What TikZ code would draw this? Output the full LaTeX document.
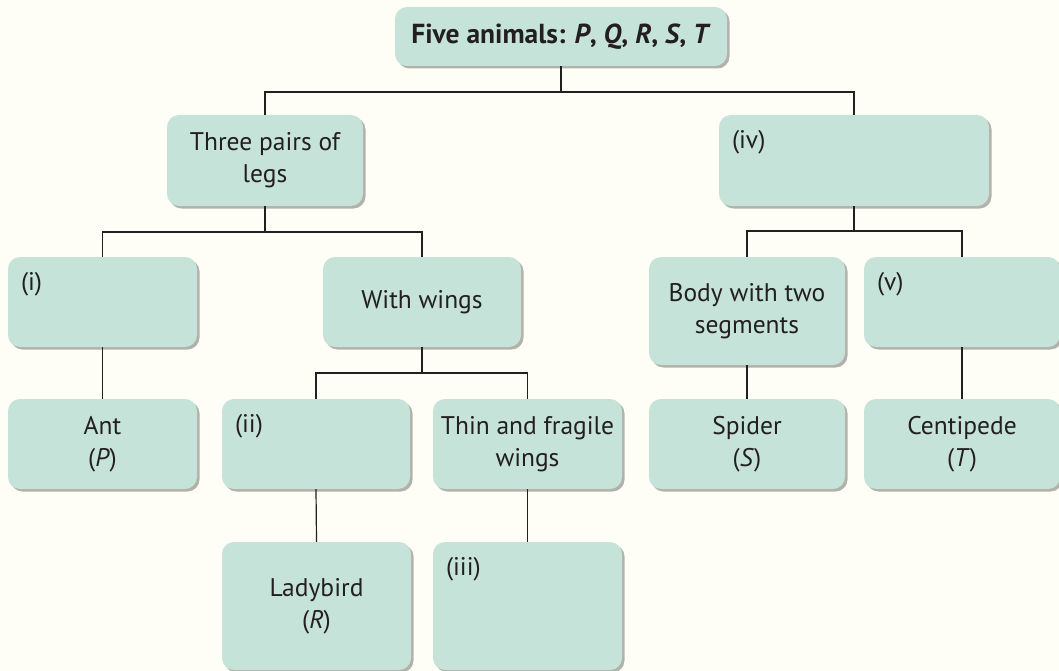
\documentclass[tikz,border=0pt]{standalone}
\usepackage{fontspec}
\setmainfont{PT Sans}
\usetikzlibrary{shadows}
\definecolor{bg}{HTML}{FFFEF6}
\definecolor{boxc}{HTML}{C5E3D8}
\definecolor{txt}{HTML}{231F20}
\begin{document}
\begin{tikzpicture}[x=1pt,y=-1pt,
  box/.style={rectangle, rounded corners=12pt, fill=boxc, inner sep=0pt, align=center, text=txt,
    font=\fontsize{25.5}{32}\selectfont,
    drop shadow={shadow xshift=2.5pt, shadow yshift=-2.5pt, fill=black, opacity=0.3}},
  link/.style={draw=txt, line width=1.2pt},
  lbl/.style={anchor=base west, text=txt, inner sep=0pt, font=\fontsize{25.5}{32}\selectfont}]
\fill[bg] (0,0) rectangle (1059,671);
\clip (0,0) rectangle (1059,671);
\useasboundingbox (0,0) rectangle (1059,671);
% boxes
\node[box, minimum width=332pt, minimum height=59pt, font=\fontsize{27.5}{32}\selectfont\bfseries] (top) at (561,36.5)
  {Five animals: \textit{P}, \textit{Q}, \textit{R}, \textit{S}, \textit{T}};
\node[box, minimum width=196pt, minimum height=91pt] (three) at (265,160.5) {Three pairs of\\legs};
\node[box, minimum width=270pt, minimum height=91pt] (iv) at (854,160.5) {};
\node[box, minimum width=189pt, minimum height=90pt] (i) at (102.5,302) {};
\node[box, minimum width=198pt, minimum height=90pt] (wings) at (422,302) {With wings};
\node[box, minimum width=196pt, minimum height=108pt] (body) at (747,311) {Body with two\\segments};
\node[box, minimum width=196pt, minimum height=90pt] (v) at (962,302) {};
\node[box, minimum width=189pt, minimum height=90pt] (ant) at (102.5,444) {Ant\\(\textit{P})};
\node[box, minimum width=188pt, minimum height=90pt] (ii) at (316,444) {};
\node[box, minimum width=189pt, minimum height=90pt] (thin) at (527.5,444) {Thin and fragile\\wings};
\node[box, minimum width=196pt, minimum height=90pt] (spider) at (747,444) {Spider\\(\textit{S})};
\node[box, minimum width=196pt, minimum height=90pt] (centi) at (962,444) {Centipede\\(\textit{T})};
\node[box, minimum width=189pt, minimum height=128pt] (lady) at (316.5,606) {Ladybird\\(\textit{R})};
\node[box, minimum width=189pt, minimum height=128pt] (iii) at (527.5,606) {};
% labels
\node[lbl] (liv) at ([xshift=13pt,yshift=-34pt]iv.north west) {(iv)};
\node[lbl] (li) at ([xshift=13pt,yshift=-34pt]i.north west) {(i)};
\node[lbl] (lv) at ([xshift=13pt,yshift=-34pt]v.north west) {(v)};
\node[lbl] (lii) at ([xshift=13pt,yshift=-34pt]ii.north west) {(ii)};
\node[lbl] (liii) at ([xshift=13pt,yshift=-34pt]iii.north west) {(iii)};
% connectors
\coordinate (b1) at (561,92);
\coordinate (b2) at (265,232);
\coordinate (b3) at (854,231);
\coordinate (b4) at (422,373);
\draw[link] (top.south) -- (b1);
\draw[link] (three.north) |- (b1) -| (iv.north);
\draw[link] (three.south) -- (b2);
\draw[link] (i.north) |- (b2) -| (wings.north);
\draw[link] (iv.south) -- (b3);
\draw[link] (body.north) |- (b3) -| (v.north);
\draw[link] (i.south) -- (ant.north);
\draw[link] (wings.south) -- (b4);
\draw[link] (ii.north) |- (b4) -| (thin.north);
\draw[link] (body.south) -- (spider.north);
\draw[link] (v.south) -- (centi.north);
\draw[link] (ii.south) -- (lady.north);
\draw[link] (thin.south) -- (iii.north);
\end{tikzpicture}
\end{document}
